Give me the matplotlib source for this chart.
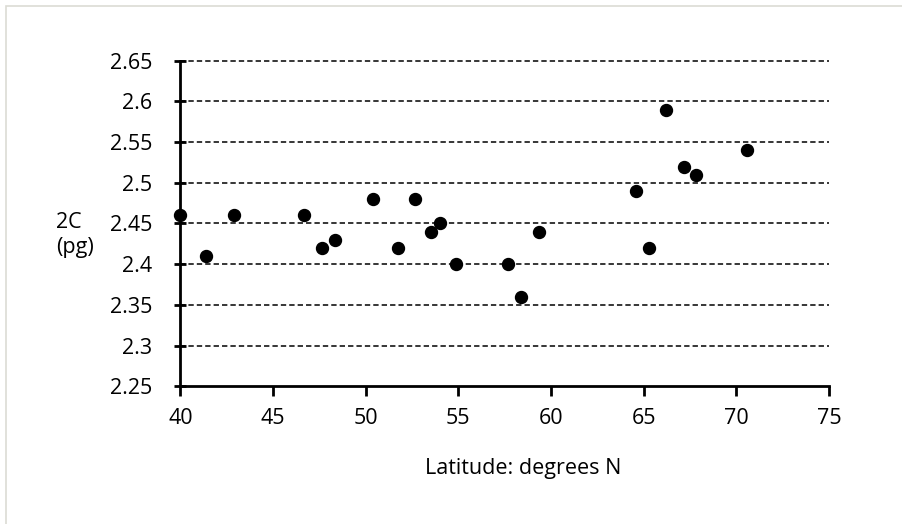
import matplotlib
matplotlib.use("Agg")
import matplotlib.pyplot as plt
from matplotlib.patches import Rectangle

plt.rcParams['font.family'] = ['Open Sans', 'DejaVu Sans']

# latitude (degrees N) and 2C genome size (pg)
latitude = [40.0, 41.38, 42.89, 46.66, 47.62, 48.34, 50.40, 51.72, 52.65, 53.50,
            54.0, 54.86, 57.69, 58.36, 59.33, 64.57, 65.27, 66.18, 67.16, 67.84, 70.59]
genome_2c = [2.46, 2.41, 2.46, 2.46, 2.42, 2.43, 2.48, 2.42, 2.48, 2.44,
             2.45, 2.40, 2.40, 2.36, 2.44, 2.49, 2.42, 2.59, 2.52, 2.51, 2.54]

x_ticks = [40, 45, 50, 55, 60, 65, 70, 75]
y_ticks = [2.25, 2.3, 2.35, 2.4, 2.45, 2.5, 2.55, 2.6, 2.65]
y_labels = ['2.25', '2.3', '2.35', '2.4', '2.45', '2.5', '2.55', '2.6', '2.65']

fig = plt.figure(figsize=(9.02, 5.24), dpi=100)
fig.patches.append(Rectangle((6 / 902, -0.01), 1.0, 1 - 6 / 524 + 0.01,
                             transform=fig.transFigure, fill=False,
                             edgecolor='#dcdcd4', linewidth=1.2))
ax = fig.add_axes([0.2, 0.263, 0.719, 0.621])

for y in y_ticks[1:]:
    ax.axhline(y, color='black', linestyle=(0, (3.5, 2)), linewidth=1.1,
               zorder=1, clip_on=False)

ax.plot(latitude, genome_2c, 'o', color='black', markersize=8.6, clip_on=False, zorder=3)

ax.set_xlim(40, 75)
ax.set_ylim(2.25, 2.65)
ax.set_xticks(x_ticks)
ax.set_yticks(y_ticks)
ax.set_yticklabels(y_labels)

for side in ['top', 'right']:
    ax.spines[side].set_visible(False)
for side in ['left', 'bottom']:
    ax.spines[side].set_linewidth(2)
ax.tick_params(axis='x', direction='out', length=7, width=2, labelsize=15.5, pad=9)
ax.tick_params(axis='y', direction='inout', length=8, width=2, labelsize=15.5, pad=16)

ax.set_xlabel('Latitude: degrees N', fontsize=15.5)
ax.xaxis.set_label_coords((523 - 180.5) / 648.5, -(468 - 386) / 325.0)
ax.xaxis.label.set_va('center')
fig.text(56 / 902, 1 - 235 / 524, '2C\n(pg)', fontsize=15.5, ha='left', va='center',
         linespacing=1.2)

fig.savefig('out.png', dpi=100)
